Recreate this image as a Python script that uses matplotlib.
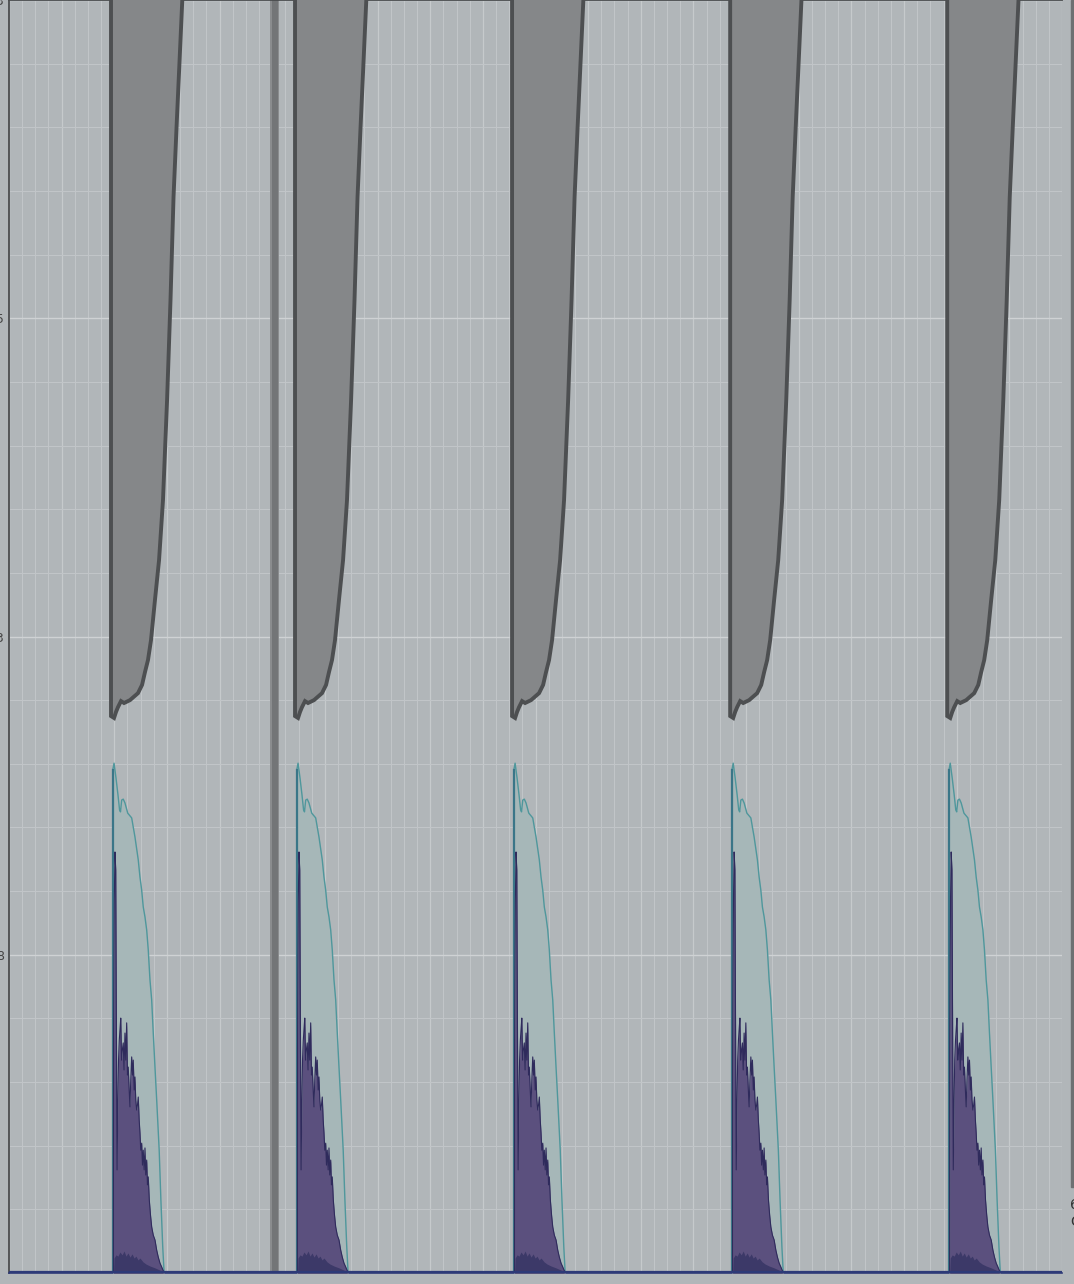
import matplotlib.pyplot as plt
from matplotlib.ticker import MultipleLocator

# panel start positions (x, grid units)
panel_starts = [7.75, 21.73, 38.22, 54.79, 71.28]

# gray band: right edge (offset from panel start) vs value
gray_dx = [5.47, 5.21, 4.98, 4.75, 4.52, 4.26, 3.95, 3.65, 3.34, 3.04, 2.81,
           2.58, 2.36, 2.05, 1.44, 0.99, 0.76, 0.53, 0.38, 0.23]
gray_y = [4.05, 3.811, 3.601, 3.381, 3.057, 2.743, 2.429, 2.240, 2.115, 1.989,
          1.926, 1.888, 1.848, 1.822, 1.800, 1.791, 1.797, 1.778, 1.763, 1.744]

# teal envelope
teal_dx = [0.13, 0.13, 0.23, 0.38, 0.53, 0.65, 0.72, 0.81, 0.93, 1.06, 1.27, 1.39,
           1.57, 1.69, 1.82, 2.07, 2.20, 2.33, 2.45, 2.58, 2.71, 2.83, 2.96, 3.09,
           3.21, 3.34, 3.47, 3.66, 3.79, 3.93, 4.03]
teal_y = [0.0, 1.58, 1.602, 1.555, 1.502, 1.455, 1.449, 1.486, 1.489, 1.477, 1.445,
          1.439, 1.430, 1.401, 1.370, 1.298, 1.244, 1.203, 1.150, 1.119, 1.078,
          1.015, 0.921, 0.858, 0.754, 0.647, 0.544, 0.386, 0.229, 0.082, 0.003]

# purple spikes
purple_dx = [0.18, 0.19, 0.25, 0.30, 0.36, 0.40, 0.46, 0.52, 0.57, 0.63, 0.68, 0.74,
             0.80, 0.86, 0.93, 0.99, 1.06, 1.12, 1.19, 1.25, 1.31, 1.38, 1.44, 1.50,
             1.57, 1.63, 1.69, 1.76, 1.82, 1.88, 1.95, 2.01, 2.07, 2.14, 2.20, 2.26,
             2.33, 2.39, 2.45, 2.52, 2.58, 2.64, 2.71, 2.77, 2.83, 2.91, 3.00, 3.09,
             3.21, 3.34, 3.47, 3.59, 3.72, 3.85, 3.95, 4.03]
purple_y = [0.0, 0.701, 1.172, 1.323, 1.266, 0.858, 0.324, 0.544, 0.669, 0.732, 0.764,
            0.801, 0.669, 0.701, 0.723, 0.638, 0.754, 0.669, 0.786, 0.622, 0.647,
            0.575, 0.522, 0.606, 0.679, 0.622, 0.669, 0.575, 0.616, 0.544, 0.512,
            0.528, 0.553, 0.481, 0.440, 0.386, 0.408, 0.339, 0.386, 0.324, 0.393,
            0.308, 0.355, 0.277, 0.302, 0.229, 0.182, 0.145, 0.119, 0.104, 0.072,
            0.050, 0.031, 0.019, 0.009, 0.003]

# dark low band
low_dx = [0.19, 0.23, 0.38, 0.53, 0.68, 0.84, 0.99, 1.14, 1.29, 1.44, 1.60, 1.75,
          1.90, 2.05, 2.20, 2.43, 2.66, 2.96, 3.34, 3.72, 3.95]
low_y = [0.0, 0.047, 0.057, 0.053, 0.066, 0.057, 0.069, 0.053, 0.063, 0.050, 0.060,
         0.047, 0.053, 0.041, 0.047, 0.035, 0.028, 0.022, 0.016, 0.009, 0.003]

y_ticks = [1, 2, 3, 4]
y_labels = ["8", "13", "25", "33"]

bg = '#b1b6b9'
fig = plt.figure(figsize=(10.74, 12.84), dpi=100, facecolor=bg)
ax = fig.add_axes([9 / 1074, 11 / 1284, 1053 / 1074, 1273 / 1284], facecolor=bg)
ax.set_xlim(0, 80)
ax.set_ylim(0, 4)

ax.xaxis.set_major_locator(MultipleLocator(4))
ax.xaxis.set_minor_locator(MultipleLocator(1))
ax.yaxis.set_minor_locator(MultipleLocator(0.2))
ax.set_yticks(y_ticks)
ax.set_yticklabels(y_labels, fontsize=9, color='#444444')
ax.tick_params(axis='both', which='both', length=0)
ax.tick_params(axis='x', labelbottom=False)
ax.grid(True, which='major', axis='y', color='#cfd2d4', lw=1.0)
ax.grid(True, which='major', axis='x', color='#c6cacc', lw=0.9)
ax.grid(True, which='minor', color='#c1c5c8', lw=0.8)
ax.set_axisbelow(True)

for s in ['left', 'top']:
    ax.spines[s].set_color('#4a4c4e')
    ax.spines[s].set_linewidth(1.3)
ax.spines['right'].set_visible(False)
ax.spines['bottom'].set_color('#2d3a78')
ax.spines['bottom'].set_linewidth(1.2)

# dark band in first panel
ax.axvspan(19.85, 20.5, color='#8a8c8e', lw=0, zorder=1)
ax.axvspan(19.95, 20.4, color='#737577', lw=0, zorder=1)

for x0 in panel_starts:
    gx = [x0, x0] + [x0 + d for d in gray_dx][::-1]
    gy = [4.05, 1.75] + gray_y[::-1]
    ax.fill(gx, gy, facecolor='#858789', edgecolor='#4d4f51', lw=2.8, zorder=3)

    tx = [x0 + d for d in teal_dx]
    ax.fill_between(tx, teal_y, color='#a6b7b8', lw=0, zorder=3)
    ax.plot(tx, teal_y, color='#4f979c', lw=1.0, zorder=4)
    ax.plot([tx[0], tx[0]], [0, teal_y[1]], color='#3a7688', lw=1.6, zorder=5)

    px = [x0 + d for d in purple_dx]
    ax.fill_between(px, purple_y, color='#5b507e', lw=0, zorder=5)
    ax.plot(px, purple_y, color='#2f2b5c', lw=0.8, zorder=6)

    lx = [x0 + d for d in low_dx]
    ax.fill_between(lx, low_y, color='#3c3968', lw=0, zorder=7)

ax.axhline(0.004, color='#2d3a78', lw=1.6, zorder=8)

# right edge strip and cut-off labels
fig.patches.append(plt.Rectangle((1071 / 1074, (1284 - 1187) / 1284), 3 / 1074,
                                 1187 / 1284, transform=fig.transFigure,
                                 color='#6e7072', zorder=0))
fig.text(1070 / 1074, 1 - 1205 / 1284, "6", fontsize=10, color='#333333',
         va='center')
fig.text(1070 / 1074, 1 - 1222 / 1284, "C", fontsize=10, color='#333333',
         va='center')

fig.savefig('out.png', dpi=100, facecolor=bg)
